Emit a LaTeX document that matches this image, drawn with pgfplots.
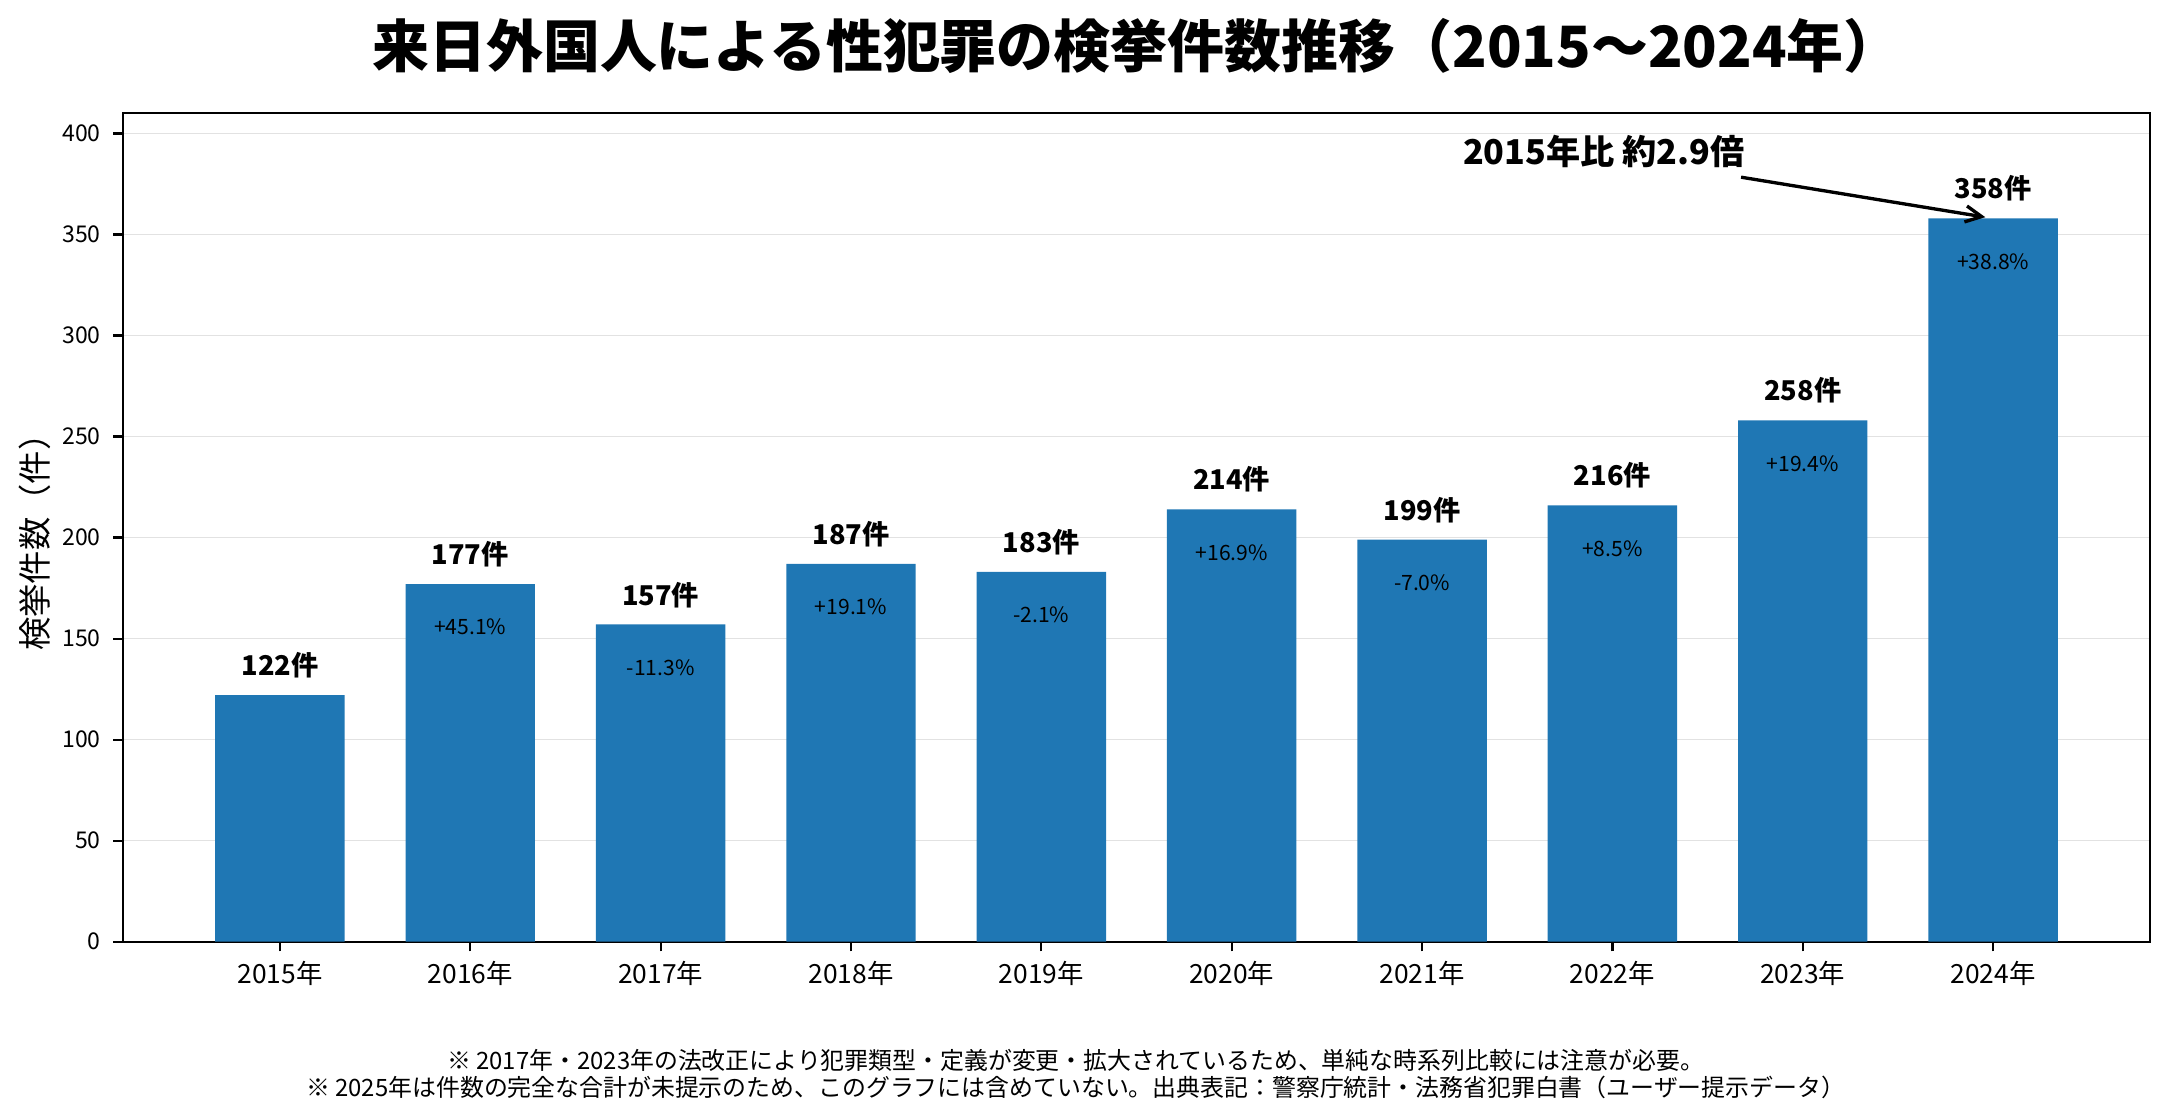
\documentclass[border=0pt]{standalone}
\usepackage{fontspec}
\setmainfont{Noto Sans CJK JP}
\usepackage{pgfplots}
\pgfplotsset{compat=1.18}
\usepackage{pgfplotstable}
\usetikzlibrary{arrows.meta}
\definecolor{barblue}{RGB}{31,119,180}
\definecolor{gridgray}{RGB}{226,226,226}

\pgfplotstableread{
x y
0 122
1 177
2 157
3 187
4 183
5 214
6 199
7 216
8 258
9 358
}\counts

\pgfplotstableread{
x y pct
1 177 +45.1
2 157 -11.3
3 187 +19.1
4 183 -2.1
5 214 +16.9
6 199 -7.0
7 216 +8.5
8 258 +19.4
9 358 +38.8
}\changes

\begin{document}
\begin{tikzpicture}
\path[use as bounding box] (-44.3pt,-63.5pt) rectangle (736.2pt,339pt);
\begin{axis}[
  at={(0pt,0pt)}, anchor=south west,
  width=729.7pt, height=298.2pt, scale only axis,
  xmin=-0.824, xmax=9.824, ymin=0, ymax=410,
  xtick={0,...,9},
  xticklabels={2015年,2016年,2017年,2018年,2019年,2020年,2021年,2022年,2023年,2024年},
  ytick={0,50,...,400},
  tick align=outside, xtick pos=lower, ytick pos=left,
  major tick length=3.5pt,
  tick style={black, line width=0.8pt},
  axis line style={line width=0.8pt},
  ymajorgrids, grid style={gridgray, line width=0.6pt},
  /pgf/number format/assume math mode=true,
  yticklabel style={font=\fontsize{8.3}{10}\selectfont, xshift=-1pt},
  xticklabel style={font=\fontsize{9.5}{11}\selectfont},
  ylabel={検挙件数（件）},
  ylabel style={font=\fontsize{12}{14}\selectfont, at={(axis description cs:0,0.492)}, anchor=center, yshift=31.8pt},
  clip=false,
]
\addplot[ybar, bar width=0.68, bar shift=0pt, fill=barblue, draw=none,
  nodes near coords={\pgfmathprintnumber{\pgfplotspointmeta}件},
  nodes near coords style={font=\bfseries\fontsize{9.8}{11}\selectfont, anchor=base, yshift=7pt, inner sep=0pt, text=black}]
  table[x=x,y=y]{\counts};
\addplot[ybar, bar width=0.68, bar shift=0pt, fill=none, draw=none,
  point meta=explicit symbolic,
  nodes near coords={\pgfplotspointmeta\%},
  nodes near coords style={font=\fontsize{7.6}{9}\selectfont, anchor=base, yshift=-18.3pt, inner sep=0pt, text=black}]
  table[x=x,y=y,meta=pct]{\changes};
\node[font=\bfseries\fontsize{12.3}{15}\selectfont, anchor=center, inner sep=0pt] at (axis cs:6.955,391) {2015年比 約2.9倍};
\draw[line width=1.2pt, -{Straight Barb[length=5.8pt,width=5.8pt]}] (axis cs:7.676,378.4) -- (axis cs:8.959,358.6);
\node[font=\bfseries\fontsize{20.5}{24}\selectfont, anchor=center, inner sep=0pt, yshift=24.2pt] at (rel axis cs:0.5,1) {来日外国人による性犯罪の検挙件数推移（2015〜2024年）};
\node[font=\fontsize{8.6}{10}\selectfont, anchor=center, inner sep=0pt, yshift=-42.6pt] at (rel axis cs:0.470,0) {※ 2017年・2023年の法改正により犯罪類型・定義が変更・拡大されているため、単純な時系列比較には注意が必要。};
\node[font=\fontsize{8.6}{10}\selectfont, anchor=center, inner sep=0pt, yshift=-52.3pt] at (rel axis cs:0.470,0) {※ 2025年は件数の完全な合計が未提示のため、このグラフには含めていない。出典表記：警察庁統計・法務省犯罪白書（ユーザー提示データ）};
\end{axis}
\end{tikzpicture}
\end{document}
